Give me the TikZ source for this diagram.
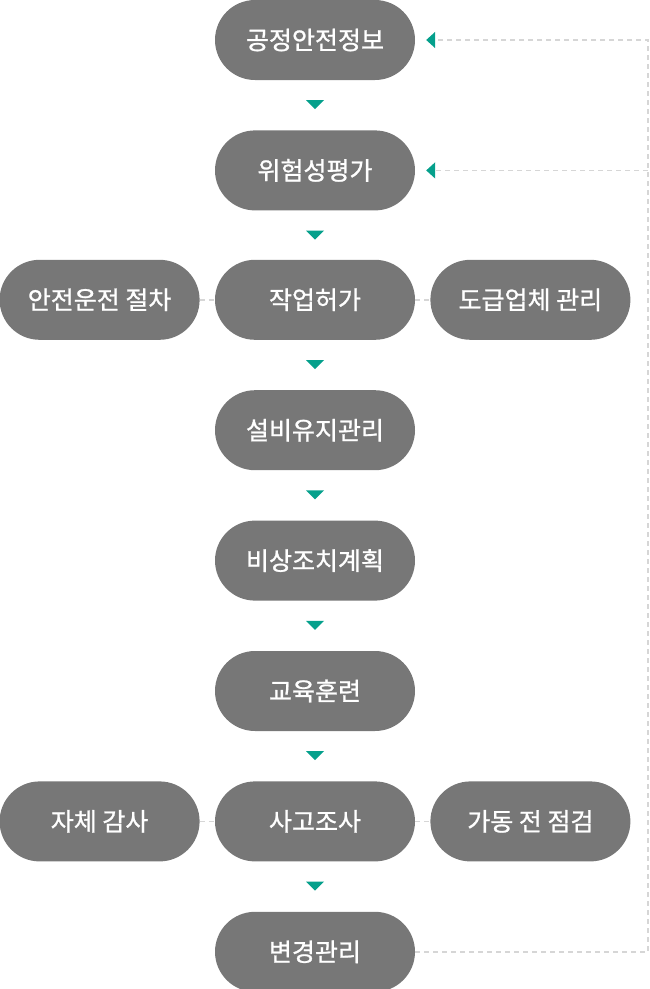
\documentclass[tikz,border=0pt]{standalone}
\usepackage{fontspec}
\setmainfont{Noto Sans CJK KR}[FakeBold=1]
\usetikzlibrary{positioning,arrows.meta}
\definecolor{boxgray}{HTML}{777777}
\definecolor{tealmark}{HTML}{05A08C}
\definecolor{dashgray}{HTML}{D6D6D6}
\begin{document}
\begin{tikzpicture}[x=1pt,y=-1pt,
  pill/.style={fill=boxgray,text=white,minimum width=200pt,minimum height=80pt,inner sep=0pt,rounded corners=40pt,font=\fontsize{25}{28}\selectfont},
  link/.style={draw=dashgray,line width=1.5pt,dash pattern=on 5pt off 4pt},
  back/.style={link,-{Triangle[length=9pt,width=16pt,color=tealmark]}}]
\useasboundingbox (0,0) rectangle (650,989);
\node[pill] (psi) at (315,40) {공정안전정보};
\node[pill,below=50pt of psi] (risk) {위험성평가};
\node[pill,below=49pt of risk] (permit) {작업허가};
\node[pill,below=50pt of permit] (maint) {설비유지관리};
\node[pill,below=50pt of maint] (emerg) {비상조치계획};
\node[pill,below=50pt of emerg] (train) {교육훈련};
\node[pill,below=50pt of train] (acc) {사고조사};
\node[pill,below=50pt of acc] (moc) {변경관리};
\node[pill,left=15pt of permit] (sop) {안전운전 절차};
\node[pill,right=15pt of permit] (sub) {도급업체 관리};
\node[pill,left=15pt of acc] (audit) {자체 감사};
\node[pill,right=15pt of acc] (prestart) {가동 전 점검};
% down marks
\foreach \n in {psi,risk,permit,maint,emerg,train,acc}
  \fill[tealmark] ([xshift=-9pt,yshift=-20pt]\n.south) -- ++(18,0) -- ++(-9,9) -- cycle;
% side links
\draw[link] (sop) -- (permit); \draw[link] (permit) -- (sub);
\draw[link] (audit) -- (acc); \draw[link] (acc) -- (prestart);
% feedback
\draw[back] (moc.east) -| ([xshift=233pt]psi.east) -- ([xshift=11pt]psi.east);
\draw[back] ([xshift=233pt]risk.east) -- ([xshift=11pt]risk.east);
\end{tikzpicture}
\end{document}
